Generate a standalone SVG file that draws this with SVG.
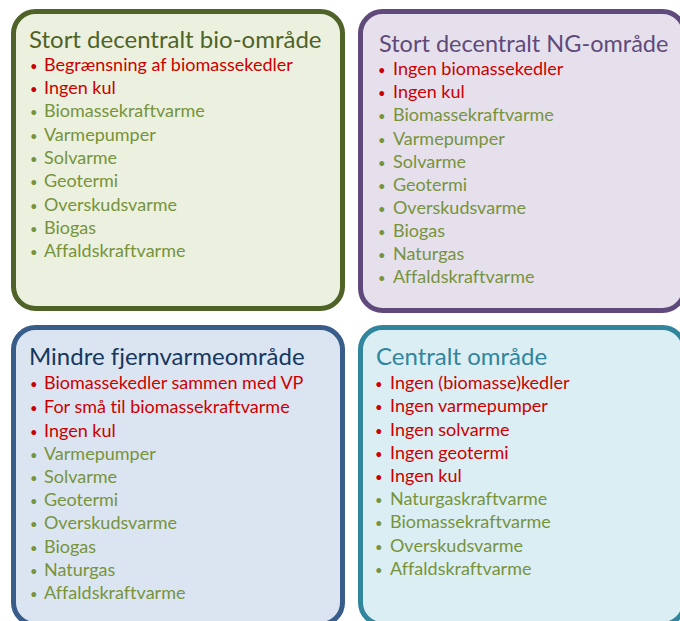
<svg xmlns="http://www.w3.org/2000/svg" width="680" height="621" viewBox="0 0 680 621">
<style>
text{font-family:Lato,"Liberation Sans",sans-serif;font-variant-ligatures:none}
.box{stroke-width:5}
.t{font-size:24px}
.i text{font-size:18px}
.i text.b{font-size:13px}
.r{fill:#cc0000}
.g{fill:#77933c}
</style>
<rect width="680" height="621" fill="#ffffff"/>
<g id="bio">
<rect class="box" x="13.5" y="11.5" width="329" height="297" rx="22" fill="#ebf1de" stroke="#4f6228"/>
<text class="t" x="29" y="48" fill="#4f6228">Stort decentralt bio-område</text>
<g class="i">
<text x="30" y="71" class="r b">•</text><text x="44" y="71" class="r">Begrænsning af biomassekedler</text>
<text x="30" y="94" class="r b">•</text><text x="44" y="94" class="r">Ingen kul</text>
<text x="30" y="117" class="g b">•</text><text x="44" y="117" class="g">Biomassekraftvarme</text>
<text x="30" y="141" class="g b">•</text><text x="44" y="141" class="g">Varmepumper</text>
<text x="30" y="164" class="g b">•</text><text x="44" y="164" class="g">Solvarme</text>
<text x="30" y="187" class="g b">•</text><text x="44" y="187" class="g">Geotermi</text>
<text x="30" y="211" class="g b">•</text><text x="44" y="211" class="g">Overskudsvarme</text>
<text x="30" y="234" class="g b">•</text><text x="44" y="234" class="g">Biogas</text>
<text x="30" y="257" class="g b">•</text><text x="44" y="257" class="g">Affaldskraftvarme</text>
</g>
</g>
<g id="ng">
<rect class="box" x="360.5" y="11.5" width="324" height="299" rx="22" fill="#e5e0ec" stroke="#604a7b"/>
<text class="t" x="379" y="52" fill="#604a7b" style="font-size:23.5px">Stort decentralt NG-område</text>
<g class="i">
<text x="378" y="75" class="r b">•</text><text x="393" y="75" class="r">Ingen biomassekedler</text>
<text x="378" y="98" class="r b">•</text><text x="393" y="98" class="r">Ingen kul</text>
<text x="378" y="121" class="g b">•</text><text x="393" y="121" class="g">Biomassekraftvarme</text>
<text x="378" y="145" class="g b">•</text><text x="393" y="145" class="g">Varmepumper</text>
<text x="378" y="168" class="g b">•</text><text x="393" y="168" class="g">Solvarme</text>
<text x="378" y="191" class="g b">•</text><text x="393" y="191" class="g">Geotermi</text>
<text x="378" y="214" class="g b">•</text><text x="393" y="214" class="g">Overskudsvarme</text>
<text x="378" y="237" class="g b">•</text><text x="393" y="237" class="g">Biogas</text>
<text x="378" y="260" class="g b">•</text><text x="393" y="260" class="g">Naturgas</text>
<text x="378" y="283" class="g b">•</text><text x="393" y="283" class="g">Affaldskraftvarme</text>
</g>
</g>
<g id="mindre">
<rect class="box" x="13.5" y="327.5" width="329" height="297" rx="22" fill="#dbe5f1" stroke="#385d8a"/>
<text class="t" x="29" y="365" fill="#17375e">Mindre fjernvarmeområde</text>
<g class="i">
<text x="30" y="389" class="r b">•</text><text x="44" y="389" class="r">Biomassekedler sammen med VP</text>
<text x="30" y="413" class="r b">•</text><text x="44" y="413" class="r">For små til biomassekraftvarme</text>
<text x="30" y="437" class="r b">•</text><text x="44" y="437" class="r">Ingen kul</text>
<text x="30" y="460" class="g b">•</text><text x="44" y="460" class="g">Varmepumper</text>
<text x="30" y="483" class="g b">•</text><text x="44" y="483" class="g">Solvarme</text>
<text x="30" y="506" class="g b">•</text><text x="44" y="506" class="g">Geotermi</text>
<text x="30" y="529" class="g b">•</text><text x="44" y="529" class="g">Overskudsvarme</text>
<text x="30" y="553" class="g b">•</text><text x="44" y="553" class="g">Biogas</text>
<text x="30" y="576" class="g b">•</text><text x="44" y="576" class="g">Naturgas</text>
<text x="30" y="599" class="g b">•</text><text x="44" y="599" class="g">Affaldskraftvarme</text>
</g>
</g>
<g id="central">
<rect class="box" x="360.5" y="327.5" width="324" height="297" rx="22" fill="#dbeef4" stroke="#31859c"/>
<text class="t" x="376" y="365" fill="#31859c">Centralt område</text>
<g class="i">
<text x="375" y="389" class="r b">•</text><text x="390" y="389" class="r">Ingen (biomasse)kedler</text>
<text x="375" y="412" class="r b">•</text><text x="390" y="412" class="r">Ingen varmepumper</text>
<text x="375" y="436" class="r b">•</text><text x="390" y="436" class="r">Ingen solvarme</text>
<text x="375" y="459" class="r b">•</text><text x="390" y="459" class="r">Ingen geotermi</text>
<text x="375" y="482" class="r b">•</text><text x="390" y="482" class="r">Ingen kul</text>
<text x="375" y="505" class="g b">•</text><text x="390" y="505" class="g">Naturgaskraftvarme</text>
<text x="375" y="528" class="g b">•</text><text x="390" y="528" class="g">Biomassekraftvarme</text>
<text x="375" y="552" class="g b">•</text><text x="390" y="552" class="g">Overskudsvarme</text>
<text x="375" y="575" class="g b">•</text><text x="390" y="575" class="g">Affaldskraftvarme</text>
</g>
</g>
<g id="connectors"/>
</svg>
